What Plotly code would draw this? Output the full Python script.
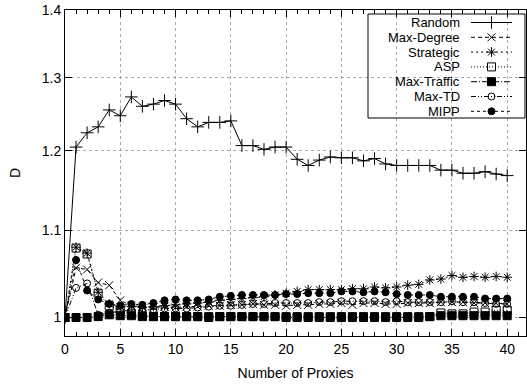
import math
import plotly.graph_objects as go

# Number of proxies on the x axis
proxies = list(range(0, 41))

random_d = [1.000, 1.205, 1.224, 1.232, 1.255, 1.247, 1.273, 1.260, 1.263, 1.268,
            1.263, 1.243, 1.232, 1.238, 1.238, 1.240, 1.207, 1.207, 1.202, 1.205,
            1.205, 1.189, 1.181, 1.188, 1.192, 1.191, 1.191, 1.187, 1.190, 1.183,
            1.181, 1.181, 1.181, 1.181, 1.175, 1.175, 1.171, 1.171, 1.173, 1.170,
            1.168]
max_degree_d = [1.000, 1.056, 1.054, 1.039, 1.036, 1.019, 1.013, 1.012, 1.011, 1.012,
                1.011, 1.012, 1.012, 1.013, 1.013, 1.014, 1.014, 1.015, 1.014, 1.014,
                1.013, 1.014, 1.014, 1.015, 1.015, 1.016, 1.014, 1.016, 1.016, 1.015,
                1.015, 1.016, 1.016, 1.016, 1.017, 1.017, 1.017, 1.016, 1.016, 1.016,
                1.015]
strategic_d = [1.000, 1.080, 1.073, 1.028, 1.015, 1.012, 1.012, 1.011, 1.012, 1.013,
               1.014, 1.015, 1.016, 1.017, 1.019, 1.020, 1.021, 1.022, 1.023, 1.025,
               1.027, 1.029, 1.031, 1.031, 1.031, 1.031, 1.032, 1.032, 1.034, 1.033,
               1.034, 1.036, 1.037, 1.042, 1.043, 1.047, 1.045, 1.046, 1.045, 1.046,
               1.045]
asp_d = [1.000, 1.079, 1.072, 1.027, 1.013, 1.008, 1.004, 1.002, 1.001, 1.001,
         1.001, 1.001, 1.001, 1.000, 1.001, 1.001, 1.001, 1.001, 1.001, 1.001,
         1.000, 1.000, 1.000, 1.000, 1.000, 1.000, 1.000, 1.000, 1.000, 1.000,
         1.000, 1.000, 1.000, 1.001, 1.005, 1.004, 1.004, 1.006, 1.006, 1.008,
         1.008]
max_traffic_d = [1.000, 1.000, 1.000, 1.001, 1.003, 1.002, 1.002, 1.001, 1.001, 1.001,
                 1.001, 1.001, 1.001, 1.001, 1.001, 1.001, 1.001, 1.001, 1.001, 1.001,
                 1.001, 1.001, 1.001, 1.001, 1.001, 1.001, 1.001, 1.001, 1.001, 1.001,
                 1.001, 1.001, 1.001, 1.001, 1.002, 1.002, 1.002, 1.002, 1.002, 1.002,
                 1.002]
max_td_d = [1.000, 1.033, 1.038, 1.003, 1.005, 1.007, 1.008, 1.008, 1.009, 1.010,
            1.010, 1.010, 1.011, 1.012, 1.013, 1.013, 1.014, 1.015, 1.015, 1.016,
            1.016, 1.016, 1.016, 1.017, 1.017, 1.018, 1.018, 1.018, 1.018, 1.017,
            1.018, 1.017, 1.017, 1.017, 1.017, 1.018, 1.017, 1.017, 1.016, 1.015,
            1.015]
mipp_d = [1.000, 1.065, 1.030, 1.020, 1.015, 1.013, 1.015, 1.014, 1.016, 1.019,
          1.020, 1.019, 1.019, 1.020, 1.023, 1.024, 1.025, 1.025, 1.025, 1.025,
          1.026, 1.026, 1.027, 1.027, 1.027, 1.029, 1.029, 1.028, 1.029, 1.028,
          1.026, 1.025, 1.025, 1.025, 1.023, 1.023, 1.023, 1.023, 1.021, 1.021,
          1.021]

series_names = ["Random", "Max-Degree", "Strategic", "ASP", "Max-Traffic", "Max-TD", "MIPP"]
series_values = [random_d, max_degree_d, strategic_d, asp_d, max_traffic_d, max_td_d, mipp_d]

y_tick_vals = [1.0, 1.1, 1.2, 1.3, 1.4]
y_tick_text = ["1", "1.1", "1.2", "1.3", "1.4"]
x_tick_vals = [0, 5, 10, 15, 20, 25, 30, 35, 40]

# gnuplot-like point types and dash patterns
styles = [
    dict(symbol="cross-thin", size=9, dash="solid"),
    dict(symbol="x-thin", size=8, dash="4px,3px"),
    dict(symbol="asterisk-open", size=8, dash="2px,3px"),
    dict(symbol="square-open", size=8, dash="1px,2px"),
    dict(symbol="square", size=8, dash="6px,2px,1px,2px"),
    dict(symbol="circle-open", size=7, dash="5px,2px,1px,2px,1px,2px"),
    dict(symbol="circle", size=7, dash="3px,3px"),
]

FONT = "Liberation Sans, Arial, Helvetica, sans-serif"

fig = go.Figure()
for name, vals, st in zip(series_names, series_values, styles):
    fig.add_trace(go.Scatter(
        x=proxies, y=vals, name=name, mode="lines+markers",
        line=dict(color="black", width=1, dash=st["dash"]),
        marker=dict(symbol=st["symbol"], size=st["size"], color="black",
                    line=dict(color="black", width=1)),
        showlegend=False,
    ))

# Key in the top-right corner, laid out on a pixel-unit overlay axis
L, R, T, B = 65, 526, 10, 336
row0, row_step = 22.5, 14.8
text_right, key_x0, key_x1 = 462, 471, 512
for i, (name, st) in enumerate(zip(series_names, styles)):
    ry = row0 + i * row_step
    fig.add_trace(go.Scatter(
        x=[key_x0, key_x1], y=[ry, ry], mode="lines", xaxis="x2", yaxis="y2",
        line=dict(color="black", width=1, dash=st["dash"]), showlegend=False,
        hoverinfo="skip"))
    fig.add_trace(go.Scatter(
        x=[(key_x0 + key_x1) / 2], y=[ry], mode="markers", xaxis="x2", yaxis="y2",
        marker=dict(symbol=st["symbol"], size=st["size"], color="black",
                    line=dict(color="black", width=1)),
        showlegend=False, hoverinfo="skip"))
    fig.add_annotation(x=text_right, y=ry, xref="x2", yref="y2", text=name,
                       showarrow=False, xanchor="right", yanchor="middle",
                       font=dict(family=FONT, size=13, color="black"))

fig.add_shape(type="rect", xref="x2", yref="y2", x0=368, x1=525, y0=14, y1=118,
              line=dict(color="black", width=1), fillcolor="rgba(0,0,0,0)")

fig.update_layout(
    width=527, height=386,
    margin=dict(l=L, r=527 - R, t=T, b=386 - B),
    paper_bgcolor="white", plot_bgcolor="white",
    font=dict(family=FONT, size=14, color="black"),
    xaxis=dict(
        range=[0, 41.7], tickvals=x_tick_vals, ticks="inside", ticklen=7,
        tickcolor="black", showline=True, linecolor="black", linewidth=1,
        mirror="ticks", showgrid=True, gridcolor="#aaaaaa", griddash="dot",
        gridwidth=1, zeroline=False,
        minor=dict(dtick=1, ticks="inside", ticklen=4, tickcolor="black", showgrid=False),
        title=dict(text="Number of Proxies", font=dict(size=14), standoff=12),
        tickfont=dict(size=14),
    ),
    yaxis=dict(
        type="log", range=[math.log10(0.98), math.log10(1.4)],
        tickvals=y_tick_vals, ticktext=y_tick_text, ticks="inside", ticklen=7,
        tickcolor="black", showline=True, linecolor="black", linewidth=1,
        mirror="ticks", showgrid=True, gridcolor="#aaaaaa", griddash="dot",
        gridwidth=1, zeroline=False,
        title=dict(text="D", font=dict(size=14), standoff=17),
        tickfont=dict(size=14),
    ),
    xaxis2=dict(overlaying="x", range=[L, R], visible=False, anchor="y2"),
    yaxis2=dict(overlaying="y", range=[B, T], visible=False, anchor="x2"),
)

fig.write_html("out.html")
